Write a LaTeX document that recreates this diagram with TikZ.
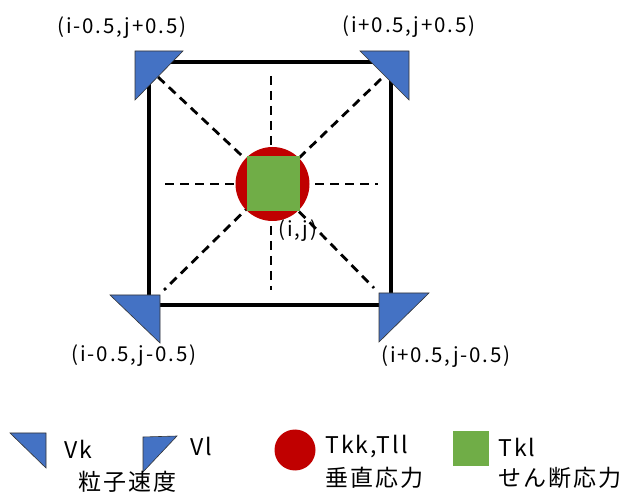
\documentclass[tikz,border=0pt]{standalone}
\usepackage{fontspec}
\setmainfont[LetterSpace=9]{Noto Sans CJK JP}
\definecolor{vblue}{HTML}{4472C4}
\definecolor{tred}{HTML}{C00000}
\definecolor{tgreen}{HTML}{70AD47}
\begin{document}
\begin{tikzpicture}[x=1pt,y=-1pt,
  tri/.style={fill=vblue,draw=black!80,line width=0.6pt,line join=miter},
  dsh/.style={line width=2.8pt,dash pattern=on 9pt off 6pt},
  lbl/.style={font=\fontsize{20.5}{22}\selectfont,inner sep=0pt},
  leg/.style={font=\fontsize{23}{26}\selectfont,inner sep=0pt,anchor=west}]
\useasboundingbox (0,0) rectangle (622,497);
% dashed guides
\coordinate (c) at (272,184);
\coordinate (dtl) at (158,77);
\coordinate (dtr) at (381,79);
\coordinate (dbl) at (164,290);
\coordinate (dbr) at (374,288);
\coordinate (dl) at (165,184);
\coordinate (dr) at (378,184);
\coordinate (dt) at (271,76);
\coordinate (db) at (271,290);
\draw[dsh] (dtl) -- (c) -- (dbr);
\draw[dsh] (dtr) -- (c) -- (dbl);
\draw[dsh] (dl) -- (dr);
\draw[dsh] (dt) -- (db);
% square
\draw[line width=4.5pt] (149,62) rectangle (391,305);
% center
\node[circle,fill=tred,minimum size=74pt,inner sep=0pt] (circ) at (272.5,184) {};
\node[rectangle,fill=tgreen,minimum width=53pt,minimum height=55pt,inner sep=0pt] (sq) at (273.5,183.5) {};
% corner triangles
\draw[tri] (135,51) -- (183,51) -- (135,100) -- cycle;
\draw[tri] (360,51) -- (409,51) -- (409,100) -- cycle;
\draw[tri] (110,295) -- (160,295) -- (160,343) -- cycle;
\draw[tri] (379,293) -- (429,293) -- (379,342) -- cycle;
% labels
\node[lbl] (ltl) at (122,28) {(i-0.5,j+0.5)};
\node[lbl] (ltr) at (409,27) {(i+0.5,j+0.5)};
\node[lbl] (lbl) at (134,356) {(i-0.5,j-0.5)};
\node[lbl] (lbr) at (446,357) {(i+0.5,j-0.5)};
\node[lbl] (lc) at (298,231) {(i,j)};
% legend
\draw[tri] (10,433) -- (46,433) -- (46,468) -- cycle;
\node[leg] (vk) at (64,449) {Vk};
\draw[tri] (143,437) -- (177,436) -- (143,472) -- cycle;
\node[leg] (vl) at (190,446) {Vl};
\node[leg] (ryu) at (78,482) {粒子速度};
\node[circle,fill=tred,minimum size=41pt,inner sep=0pt] (lcirc) at (295,450) {};
\node[leg] (tkk) at (325,447) {Tkk,Tll};
\node[leg] (sui) at (325,478) {垂直応力};
\node[rectangle,fill=tgreen,minimum width=36pt,minimum height=35pt,inner sep=0pt] (lsq) at (471,448.5) {};
\node[leg] (tkl) at (498,447) {Tkl};
\node[leg] (sen) at (498,478) {せん断応力};
\end{tikzpicture}
\end{document}
